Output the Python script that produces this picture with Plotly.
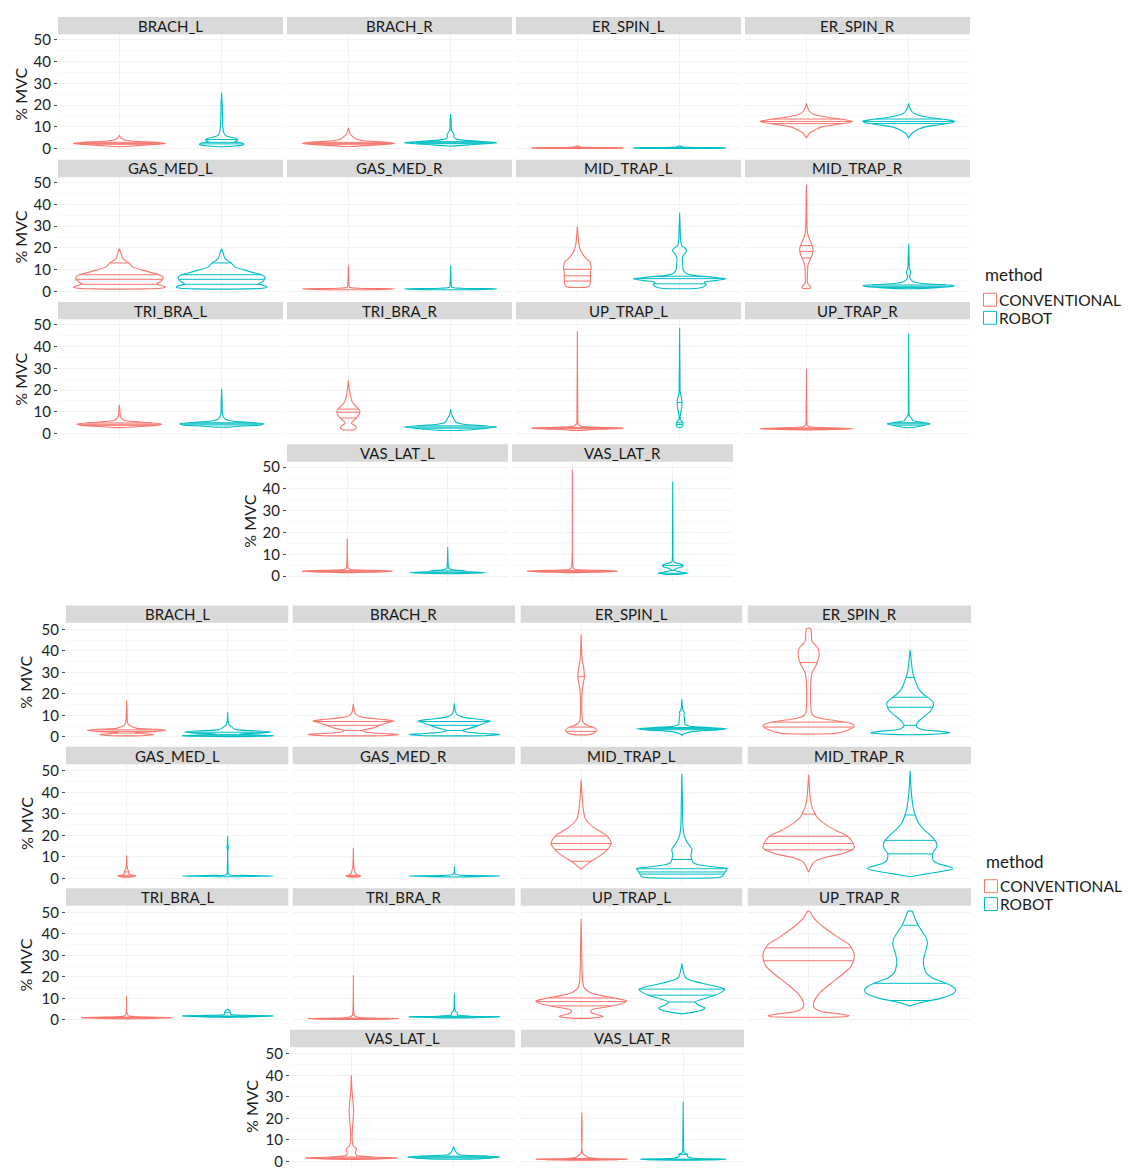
import numpy as np
import plotly.graph_objects as go

# ---------------------------------------------------------------------------
# Categories
# ---------------------------------------------------------------------------
MUSCLES = ["BRACH_L", "BRACH_R", "ER_SPIN_L", "ER_SPIN_R",
           "GAS_MED_L", "GAS_MED_R", "MID_TRAP_L", "MID_TRAP_R",
           "TRI_BRA_L", "TRI_BRA_R", "UP_TRAP_L", "UP_TRAP_R",
           "VAS_LAT_L", "VAS_LAT_R"]
METHODS = ["CONVENTIONAL", "ROBOT"]
Y_TICKS = [0, 10, 20, 30, 40, 50]
Y_MINOR = [5, 15, 25, 35, 45]
AXIS_TITLE = "% MVC"
LEGEND_TITLE = "method"

# ---------------------------------------------------------------------------
# Violin profiles: (%MVC levels, violin half-width at each level, quantile lines)
# Upper figure
# ---------------------------------------------------------------------------
U_BRACH_L_CON = ([0.9, 1.5, 2.0, 2.4, 2.9, 3.4, 4.0, 4.5, 5.0, 6.2],
                 [0.02, 0.2, 0.38, 0.45, 0.35, 0.15, 0.05, 0.03, 0.015, 0], [2.0, 2.4, 2.9])
U_BRACH_L_ROB = ([0.9, 1.3, 1.9, 2.6, 3.2, 3.8, 4.5, 5.2, 6.0, 7.5, 10, 15, 20, 25.7],
                 [0.02, 0.15, 0.217, 0.2, 0.13, 0.155, 0.15, 0.09, 0.04, 0.02, 0.012, 0.008, 0.006, 0], [2.2, 2.9, 4.2])
U_BRACH_R_CON = ([1.0, 1.6, 2.4, 3.0, 3.6, 4.5, 5.5, 6.5, 7.5, 9.5],
                 [0.02, 0.25, 0.45, 0.35, 0.15, 0.07, 0.045, 0.02, 0.012, 0], [2.0, 2.4, 2.9])
U_BRACH_R_ROB = ([1.2, 1.8, 2.75, 3.3, 3.9, 4.5, 5.5, 6.5, 7.5, 8.5, 12, 15.9],
                 [0.02, 0.2, 0.45, 0.3, 0.12, 0.05, 0.03, 0.035, 0.02, 0.008, 0.006, 0], [2.3, 2.75, 3.2])
U_ER_SPIN_L_CON = ([0.05, 0.2, 0.35, 0.5, 0.7, 1.3],
                   [0.02, 0.3, 0.45, 0.2, 0.03, 0], [0.3, 0.35, 0.4])
U_ER_SPIN_L_ROB = ([0.05, 0.2, 0.35, 0.5, 0.7, 1.3],
                   [0.02, 0.3, 0.45, 0.2, 0.03, 0], [0.3, 0.35, 0.4])
U_ER_SPIN_R_CON = ([5.0, 6.0, 7.0, 8.0, 9.0, 10.0, 11.0, 12.0, 12.5, 13.3, 14.3, 15.3, 16.3, 17.5, 19.0, 20.8],
                   [0, 0.015, 0.03, 0.06, 0.1, 0.15, 0.28, 0.42, 0.45, 0.38, 0.22, 0.1, 0.05, 0.025, 0.01, 0],
                   [11.5, 12.5, 13.6])
U_ER_SPIN_R_ROB = ([5.0, 6.0, 7.0, 8.0, 9.0, 10.0, 11.0, 12.0, 12.5, 13.3, 14.3, 15.3, 16.3, 17.5, 19.0, 20.8],
                   [0, 0.015, 0.03, 0.06, 0.1, 0.16, 0.3, 0.43, 0.45, 0.37, 0.21, 0.1, 0.05, 0.025, 0.01, 0],
                   [11.5, 12.5, 13.6])
U_GAS_MED_L_CON = ([1.2, 1.5, 2.1, 2.8, 3.5, 4.5, 5.6, 6.6, 7.7, 8.3, 9.8, 11.3, 13.1, 15.1, 18.1, 19.6],
                   [0.25, 0.4, 0.45, 0.41, 0.365, 0.4, 0.425, 0.427, 0.39, 0.342, 0.228, 0.13, 0.094, 0.033, 0.013, 0],
                   [3.3, 5.6, 7.7, 13.1])
U_GAS_MED_L_ROB = ([1.2, 1.5, 2.1, 2.8, 3.5, 4.5, 5.6, 6.6, 7.7, 8.3, 9.8, 11.3, 13.1, 15.1, 18.1, 19.6],
                   [0.25, 0.4, 0.445, 0.41, 0.36, 0.4, 0.42, 0.425, 0.39, 0.34, 0.228, 0.13, 0.094, 0.033, 0.013, 0],
                   [3.3, 5.6, 7.7, 13.1])
U_GAS_MED_R_CON = ([0.8, 1.2, 1.5, 2.0, 4.0, 12.0],
                   [0.1, 0.45, 0.1, 0.01, 0.005, 0], [])
U_GAS_MED_R_ROB = ([0.8, 1.2, 1.5, 2.0, 4.0, 12.0],
                   [0.1, 0.45, 0.1, 0.01, 0.005, 0], [])
U_MID_TRAP_L_CON = ([2.0, 2.5, 3.5, 5.0, 7.0, 9.0, 11.0, 12.5, 13.5, 15.0, 16.6, 18.0, 19.6, 22.0, 25.0, 29.8],
                    [0.09, 0.115, 0.125, 0.127, 0.128, 0.13, 0.135, 0.13, 0.125, 0.09, 0.06, 0.04, 0.026, 0.014, 0.008, 0],
                    [4.8, 7.2, 10.2])
U_MID_TRAP_L_ROB = ([1.5, 2.3, 3.3, 4.3, 5.0, 5.9, 6.6, 7.3, 8.3, 10, 12, 14, 15.8, 17.2, 18.8, 20.0, 21, 23, 28, 36.1],
                    [0.18, 0.24, 0.26, 0.24, 0.35, 0.45, 0.32, 0.15, 0.065, 0.035, 0.03, 0.026, 0.028, 0.045, 0.07, 0.05, 0.02, 0.01, 0.006, 0],
                    [3.5, 5.9, 7.0])
U_MID_TRAP_R_CON = ([1.5, 2.3, 3.0, 3.8, 6, 9, 12, 14, 16, 18, 19.6, 21.5, 23.5, 25.5, 28.5, 35, 42, 49],
                    [0.04, 0.04, 0.025, 0.012, 0.01, 0.012, 0.015, 0.03, 0.05, 0.062, 0.065, 0.055, 0.035, 0.018, 0.008, 0.004, 0.003, 0],
                    [15.4, 18.4, 21.1])
U_MID_TRAP_R_ROB = ([1.3, 1.7, 2.3, 2.7, 3.2, 3.8, 4.5, 5.5, 7, 8.5, 9.3, 10.5, 15, 21.8],
                    [0.1, 0.25, 0.42, 0.45, 0.3, 0.12, 0.05, 0.02, 0.01, 0.02, 0.02, 0.008, 0.005, 0],
                    [1.8, 2.4, 3.0])
U_TRI_BRA_L_CON = ([2.8, 3.3, 3.9, 4.4, 5.0, 5.5, 6.0, 6.7, 8, 10, 13.3],
                   [0.05, 0.2, 0.38, 0.415, 0.3, 0.15, 0.06, 0.03, 0.01, 0.006, 0], [3.8, 4.3, 4.9])
U_TRI_BRA_L_ROB = ([3.0, 3.5, 4.0, 4.5, 5.1, 5.7, 6.5, 7.5, 9, 14, 20.6],
                   [0.05, 0.2, 0.38, 0.41, 0.3, 0.12, 0.04, 0.02, 0.008, 0.005, 0], [4.0, 4.5, 5.0])
U_TRI_BRA_R_CON = ([1.8, 2.2, 3.0, 3.8, 4.8, 5.8, 7.2, 8.5, 10.0, 11.3, 12.5, 14, 15.5, 17.5, 20, 24.4],
                   [0.055, 0.07, 0.078, 0.06, 0.03, 0.045, 0.08, 0.1, 0.114, 0.1, 0.075, 0.045, 0.03, 0.02, 0.01, 0],
                   [7.2, 9.8, 11.3])
U_TRI_BRA_R_ROB = ([1.5, 2.0, 3.0, 3.6, 4.2, 5, 6, 7, 8.5, 11.3],
                   [0.1, 0.25, 0.45, 0.33, 0.15, 0.06, 0.04, 0.03, 0.012, 0], [2.5, 3.0, 3.6])
U_UP_TRAP_L_CON = ([1.5, 2.0, 2.5, 3.0, 3.5, 4.5, 10, 47],
                   [0.05, 0.2, 0.45, 0.15, 0.03, 0.008, 0.004, 0], [2.2, 2.5, 2.8])
U_UP_TRAP_L_ROB = ([2.9, 3.5, 4.5, 5.5, 6.5, 8, 10, 12, 14.3, 16.5, 18.8, 25, 48.6],
                   [0.015, 0.03, 0.033, 0.025, 0.006, 0.006, 0.012, 0.02, 0.024, 0.018, 0.006, 0.004, 0],
                   [4.2, 5.0, 14.3])
U_UP_TRAP_R_CON = ([1.7, 2.0, 2.3, 2.7, 3.2, 4, 10, 29.8],
                   [0.05, 0.3, 0.45, 0.2, 0.03, 0.008, 0.003, 0], [2.0, 2.3, 2.6])
U_UP_TRAP_R_ROB = ([2.7, 3.5, 4.5, 5.3, 6.0, 6.8, 7.5, 8.5, 15, 46],
                   [0.01, 0.12, 0.21, 0.12, 0.04, 0.033, 0.02, 0.006, 0.003, 0], [3.9, 4.5, 5.0])
U_VAS_LAT_L_CON = ([1.6, 1.9, 2.2, 2.6, 3.0, 3.5, 6, 17.1],
                   [0.05, 0.3, 0.45, 0.25, 0.04, 0.01, 0.004, 0], [1.9, 2.2, 2.5])
U_VAS_LAT_L_ROB = ([1.1, 1.4, 1.6, 2.0, 2.4, 2.9, 3.5, 6, 13.4],
                   [0.05, 0.3, 0.38, 0.2, 0.16, 0.05, 0.01, 0.004, 0], [1.5, 1.8, 2.4])
U_VAS_LAT_R_CON = ([1.6, 1.9, 2.2, 2.6, 3.0, 3.5, 6, 48.8],
                   [0.05, 0.3, 0.45, 0.25, 0.04, 0.012, 0.004, 0], [1.9, 2.2, 2.5])
U_VAS_LAT_R_ROB = ([0.8, 1.0, 1.3, 1.8, 2.4, 3.0, 3.7, 4.3, 4.9, 5.5, 6.2, 7, 15, 43.4],
                   [0.05, 0.1, 0.146, 0.09, 0.03, 0.015, 0.05, 0.095, 0.103, 0.08, 0.02, 0.006, 0.003, 0],
                   [1.3, 2.6, 4.9])

# ---------------------------------------------------------------------------
# Lower figure
# ---------------------------------------------------------------------------
L_BRACH_L_CON = ([0.6, 0.8, 1.1, 1.5, 2.0, 2.6, 3.1, 3.6, 4.0, 4.6, 5.3, 6.5, 10, 16.9],
                 [0.15, 0.22, 0.27, 0.18, 0.08, 0.3, 0.39, 0.3, 0.1, 0.06, 0.03, 0.01, 0.005, 0], [1.8, 2.6, 3.3])
L_BRACH_L_ROB = ([0.3, 0.6, 0.9, 1.4, 1.9, 2.3, 2.8, 3.3, 4.0, 4.7, 5.5, 7, 11.5],
                 [0.3, 0.45, 0.3, 0.12, 0.35, 0.425, 0.3, 0.1, 0.055, 0.04, 0.015, 0.006, 0], [0.6, 1.2, 2.2])
L_BRACH_R_CON = ([0.6, 0.8, 1.1, 1.6, 2.3, 3.1, 4.0, 5.4, 6.5, 7.4, 8.2, 9.0, 9.8, 10.8, 12, 15.4],
                 [0.3, 0.38, 0.45, 0.3, 0.12, 0.09, 0.18, 0.26, 0.33, 0.4, 0.28, 0.12, 0.05, 0.02, 0.01, 0],
                 [3.0, 5.4, 7.2])
L_BRACH_R_ROB = ([0.6, 0.8, 1.1, 1.6, 2.3, 3.1, 4.0, 5.4, 6.5, 7.4, 8.2, 9.0, 9.8, 10.8, 12, 15.7],
                 [0.3, 0.38, 0.45, 0.3, 0.12, 0.08, 0.15, 0.24, 0.3, 0.36, 0.25, 0.11, 0.05, 0.02, 0.01, 0],
                 [3.0, 5.4, 7.2])
L_ER_SPIN_L_CON = ([1.1, 1.6, 2.4, 3.1, 4.0, 5.0, 6.0, 7.2, 10, 15, 20, 24, 28, 32, 36, 40, 47.7],
                   [0.08, 0.12, 0.145, 0.155, 0.14, 0.09, 0.04, 0.016, 0.008, 0.006, 0.008, 0.018, 0.033, 0.025, 0.01, 0.005, 0],
                   [2.6, 4.6, 28.0])
L_ER_SPIN_L_ROB = ([0.8, 1.5, 2.5, 3.3, 3.8, 4.3, 5.0, 6.0, 7.5, 9, 10.5, 11.5, 12.5, 14, 17.7],
                   [0.0, 0.02, 0.1, 0.35, 0.45, 0.3, 0.08, 0.03, 0.028, 0.025, 0.02, 0.025, 0.01, 0.005, 0],
                   [3.4, 3.9, 4.4])
L_ER_SPIN_R_CON = ([1.5, 1.8, 2.5, 3.5, 4.5, 5.4, 6.5, 7.5, 8.5, 9.5, 10.5, 12, 16, 22, 27, 30, 33, 36, 39, 41.5, 43.5, 45, 47, 49, 50.5],
                   [0.2, 0.28, 0.35, 0.4, 0.44, 0.45, 0.4, 0.28, 0.14, 0.06, 0.035, 0.025, 0.02, 0.02, 0.025, 0.035, 0.07, 0.095, 0.104, 0.09, 0.05, 0.03, 0.03, 0.025, 0.02],
                   [4.6, 6.9, 34.6])
L_ER_SPIN_R_ROB = ([1.2, 1.6, 2.0, 2.6, 3.5, 5.0, 6.5, 8, 10, 12, 14, 15.8, 17.5, 19.5, 22, 25, 27.7, 30, 34, 40.5],
                   [0.2, 0.33, 0.39, 0.3, 0.12, 0.06, 0.07, 0.1, 0.15, 0.2, 0.225, 0.23, 0.2, 0.14, 0.09, 0.06, 0.04, 0.025, 0.015, 0],
                   [5.4, 13.8, 18.5, 27.7])
L_GAS_MED_L_CON = ([0.6, 0.9, 1.2, 1.6, 2.2, 3.0, 3.8, 5, 10.6],
                   [0.03, 0.07, 0.09, 0.05, 0.02, 0.025, 0.015, 0.006, 0], [1.0, 1.2, 3.0])
L_GAS_MED_L_ROB = ([0.8, 1.0, 1.15, 1.4, 1.8, 5, 13.8, 14.4, 15, 19.7],
                   [0.1, 0.3, 0.45, 0.15, 0.01, 0.004, 0.004, 0.008, 0.004, 0], [])
L_GAS_MED_R_CON = ([0.6, 0.9, 1.2, 1.6, 2.5, 3.5, 5, 14.1],
                   [0.03, 0.06, 0.074, 0.04, 0.02, 0.015, 0.006, 0], [1.0, 1.2, 1.5])
L_GAS_MED_R_ROB = ([0.7, 1.0, 1.15, 1.4, 2.0, 5.6],
                   [0.1, 0.35, 0.45, 0.1, 0.01, 0], [])
L_MID_TRAP_L_CON = ([4.3, 5.5, 7.0, 8.0, 10, 12, 13.4, 16.2, 18, 19.7, 21.5, 23.5, 26, 28, 32.6, 38, 45.9],
                    [0.0, 0.03, 0.07, 0.1, 0.17, 0.23, 0.26, 0.30, 0.285, 0.26, 0.2, 0.13, 0.07, 0.04, 0.02, 0.01, 0],
                    [8.0, 13.4, 16.2, 19.7])
L_MID_TRAP_L_ROB = ([0.8, 1.5, 2.3, 3.0, 3.8, 4.5, 5.3, 6.2, 7.5, 8.8, 10.6, 12, 13.6, 15, 17, 19, 20.5, 25, 35, 48.5],
                    [0.4, 0.41, 0.42, 0.43, 0.44, 0.45, 0.33, 0.18, 0.11, 0.1, 0.09, 0.095, 0.1, 0.08, 0.05, 0.03, 0.02, 0.01, 0.006, 0],
                    [2.0, 3.0, 4.5, 8.8])
L_MID_TRAP_R_CON = ([3.0, 5.0, 7.5, 9.8, 11.5, 13.3, 14.4, 16.2, 19.6, 22, 25, 28, 29.9, 33, 38, 48.2],
                    [0.0, 0.02, 0.05, 0.165, 0.33, 0.43, 0.45, 0.44, 0.385, 0.28, 0.17, 0.09, 0.066, 0.035, 0.015, 0],
                    [13.3, 16.2, 19.6, 29.9])
L_MID_TRAP_R_ROB = ([0.8, 2.0, 3.3, 4.5, 5.5, 6.8, 8.3, 10, 11.4, 13, 14.8, 16.2, 17.7, 20, 23, 26, 29.5, 33, 40, 50],
                    [0.0, 0.15, 0.32, 0.42, 0.38, 0.28, 0.23, 0.22, 0.22, 0.24, 0.264, 0.26, 0.247, 0.2, 0.13, 0.08, 0.05, 0.03, 0.012, 0],
                    [11.4, 17.7, 29.5])
L_TRI_BRA_L_CON = ([0.5, 0.8, 1.0, 1.3, 1.8, 3, 11],
                   [0.1, 0.3, 0.45, 0.2, 0.02, 0.005, 0], [0.8, 1.0, 1.2])
L_TRI_BRA_L_ROB = ([1.2, 1.5, 1.8, 2.1, 2.5, 3.5, 4.2, 5.0],
                   [0.1, 0.3, 0.45, 0.2, 0.03, 0.03, 0.02, 0], [1.6, 1.8, 3.5])
L_TRI_BRA_R_CON = ([0.2, 0.4, 0.6, 0.9, 1.3, 2, 4, 20.7],
                   [0.1, 0.35, 0.45, 0.1, 0.04, 0.01, 0.004, 0], [0.4, 0.6, 0.8])
L_TRI_BRA_R_ROB = ([0.9, 1.2, 1.4, 1.7, 2.3, 3.2, 4, 12.4],
                   [0.1, 0.3, 0.45, 0.15, 0.03, 0.03, 0.01, 0], [1.2, 1.4, 1.7])
L_UP_TRAP_L_CON = ([0.8, 1.2, 1.6, 2.5, 3.5, 4.6, 6.0, 7.5, 8.8, 10, 11.5, 13, 15, 18, 25, 35, 47],
                   [0.1, 0.18, 0.22, 0.15, 0.1, 0.1, 0.25, 0.4, 0.45, 0.35, 0.18, 0.08, 0.03, 0.015, 0.008, 0.005, 0],
                   [6.5, 8.5, 10.2])
L_UP_TRAP_L_ROB = ([2.8, 3.5, 4.5, 5.5, 6.8, 8.3, 9.8, 11.5, 13, 14.3, 15.5, 17, 18.5, 20, 23, 26.3],
                   [0.0, 0.1, 0.2, 0.23, 0.17, 0.13, 0.22, 0.33, 0.4, 0.425, 0.35, 0.2, 0.08, 0.03, 0.012, 0],
                   [8.3, 11.5, 14.3])
L_UP_TRAP_R_CON = ([1.3, 1.6, 2.0, 2.8, 4, 6, 8, 10, 13, 17, 21, 25, 29, 32, 35, 38, 42, 45, 48, 50.5],
                   [0.3, 0.38, 0.4, 0.3, 0.12, 0.05, 0.05, 0.07, 0.12, 0.22, 0.33, 0.42, 0.45, 0.44, 0.4, 0.3, 0.18, 0.1, 0.04, 0.01],
                   [27.5, 33.5])
L_UP_TRAP_R_ROB = ([6.5, 8, 10, 12, 13.8, 15.5, 17.5, 19.5, 21.7, 24, 27, 30, 33, 35.5, 38, 41, 44, 47, 50.5],
                   [0.0, 0.1, 0.3, 0.42, 0.45, 0.42, 0.33, 0.22, 0.16, 0.14, 0.13, 0.14, 0.16, 0.17, 0.16, 0.12, 0.08, 0.05, 0.02],
                   [9.0, 17.0, 44.0])
L_VAS_LAT_L_CON = ([0.9, 1.2, 1.5, 2.0, 2.8, 4, 5.9, 7, 10, 15, 20, 24, 28, 33, 40],
                   [0.05, 0.3, 0.45, 0.2, 0.05, 0.04, 0.05, 0.02, 0.008, 0.01, 0.018, 0.022, 0.015, 0.006, 0],
                   [1.2, 1.5, 2.0])
L_VAS_LAT_L_ROB = ([1.0, 1.5, 2.0, 2.5, 3.2, 4.5, 6.8],
                   [0.1, 0.35, 0.45, 0.3, 0.05, 0.02, 0], [1.6, 2.0, 2.4])
L_VAS_LAT_R_CON = ([0.5, 0.8, 1.0, 1.3, 2.0, 2.6, 3.5, 22.7],
                   [0.1, 0.35, 0.45, 0.15, 0.05, 0.04, 0.01, 0], [0.8, 1.0, 1.3])
L_VAS_LAT_R_ROB = ([0.5, 0.8, 1.0, 1.4, 2.3, 3.2, 4, 10, 27.7],
                   [0.1, 0.35, 0.42, 0.1, 0.04, 0.045, 0.01, 0.004, 0], [0.8, 1.0, 3.2])

# Tables, in MUSCLES order
UPPER_CON = [U_BRACH_L_CON, U_BRACH_R_CON, U_ER_SPIN_L_CON, U_ER_SPIN_R_CON, U_GAS_MED_L_CON,
             U_GAS_MED_R_CON, U_MID_TRAP_L_CON, U_MID_TRAP_R_CON, U_TRI_BRA_L_CON, U_TRI_BRA_R_CON,
             U_UP_TRAP_L_CON, U_UP_TRAP_R_CON, U_VAS_LAT_L_CON, U_VAS_LAT_R_CON]
UPPER_ROB = [U_BRACH_L_ROB, U_BRACH_R_ROB, U_ER_SPIN_L_ROB, U_ER_SPIN_R_ROB, U_GAS_MED_L_ROB,
             U_GAS_MED_R_ROB, U_MID_TRAP_L_ROB, U_MID_TRAP_R_ROB, U_TRI_BRA_L_ROB, U_TRI_BRA_R_ROB,
             U_UP_TRAP_L_ROB, U_UP_TRAP_R_ROB, U_VAS_LAT_L_ROB, U_VAS_LAT_R_ROB]
LOWER_CON = [L_BRACH_L_CON, L_BRACH_R_CON, L_ER_SPIN_L_CON, L_ER_SPIN_R_CON, L_GAS_MED_L_CON,
             L_GAS_MED_R_CON, L_MID_TRAP_L_CON, L_MID_TRAP_R_CON, L_TRI_BRA_L_CON, L_TRI_BRA_R_CON,
             L_UP_TRAP_L_CON, L_UP_TRAP_R_CON, L_VAS_LAT_L_CON, L_VAS_LAT_R_CON]
LOWER_ROB = [L_BRACH_L_ROB, L_BRACH_R_ROB, L_ER_SPIN_L_ROB, L_ER_SPIN_R_ROB, L_GAS_MED_L_ROB,
             L_GAS_MED_R_ROB, L_MID_TRAP_L_ROB, L_MID_TRAP_R_ROB, L_TRI_BRA_L_ROB, L_TRI_BRA_R_ROB,
             L_UP_TRAP_L_ROB, L_UP_TRAP_R_ROB, L_VAS_LAT_L_ROB, L_VAS_LAT_R_ROB]

# ---------------------------------------------------------------------------
# Page geometry (pixels) and styling
# ---------------------------------------------------------------------------
W, H = 1131, 1171
FONT = "Lato"
COLORS = {"CONVENTIONAL": "#F8766D", "ROBOT": "#00BFC4"}
STRIP_FILL = "#D9D9D9"
GRID_MAJOR = "#F2F2F2"
GRID_MINOR = "#F8F8F8"
STRIP_H = 17.5
PANEL_H = 120.5

GRIDS = [
    dict(con=UPPER_CON, rob=UPPER_ROB,
         strip_tops=[13, 156.7, 299.7, 443],
         cols=[(58, 283), (287, 512), (516, 741), (745, 970)],
         last_cols=[(287, 508), (512, 733)],
         yrange=[-2.5, 52.5],
         title_x=[20.5, 20.5, 20.5, 250],
         legend=dict(x=983, title_y=272.5, rows=[297.5, 315.7])),
    dict(con=LOWER_CON, rob=LOWER_ROB,
         strip_tops=[605, 747.3, 889.6, 1031.9],
         cols=[(66, 288.3), (292.7, 515), (520.7, 742.3), (747.7, 971)],
         last_cols=[(290, 515), (521, 744)],
         yrange=[-2.6, 53.1],
         title_x=[26, 26, 26, 251],
         legend=dict(x=984, title_y=863, rows=[887.5, 905.5])),
]

fig = go.Figure()
shapes, annotations = [], []
axis_no = 0


def px_x(v):
    return v / W


def px_y(v):
    return 1 - v / H


for grid in GRIDS:
    for r in range(4):
        strip_top = grid["strip_tops"][r]
        panel_top = strip_top + STRIP_H
        idx = list(range(r * 4, r * 4 + 4)) if r < 3 else [12, 13]
        cols = grid["cols"] if r < 3 else grid["last_cols"]
        for c, mi in enumerate(idx):
            axis_no += 1
            x0, x1 = cols[c]
            sfx = "" if axis_no == 1 else str(axis_no)
            first = c == 0
            fig.update_layout({
                f"xaxis{sfx}": dict(
                    domain=[px_x(x0), px_x(x1)], anchor=f"y{sfx}", range=[0.4, 2.6],
                    tickvals=[1, 2], showticklabels=False, ticks="",
                    showgrid=True, gridcolor=GRID_MAJOR, gridwidth=1,
                    zeroline=False, showline=False, fixedrange=True),
                f"yaxis{sfx}": dict(
                    domain=[px_y(panel_top + PANEL_H), px_y(panel_top)], anchor=f"x{sfx}",
                    range=grid["yrange"], tickvals=Y_TICKS, showticklabels=first,
                    ticks="outside" if first else "", ticklen=3, tickwidth=1, tickcolor="#4D4D4D",
                    tickfont=dict(family=FONT, size=15, color="#222222"),
                    showgrid=True, gridcolor=GRID_MAJOR, gridwidth=1,
                    minor=dict(tickvals=Y_MINOR, showgrid=True, gridcolor=GRID_MINOR, gridwidth=1, ticks=""),
                    zeroline=False, showline=False, fixedrange=True),
            })
            # facet strip
            shapes.append(dict(type="rect", xref="paper", yref="paper",
                               x0=px_x(x0), x1=px_x(x1), y0=px_y(strip_top + STRIP_H), y1=px_y(strip_top),
                               fillcolor=STRIP_FILL, line=dict(width=0), layer="below"))
            annotations.append(dict(xref="paper", yref="paper", x=px_x((x0 + x1) / 2),
                                    y=px_y(strip_top + STRIP_H / 2), text=MUSCLES[mi], showarrow=False,
                                    xanchor="center", yanchor="middle",
                                    font=dict(family=FONT, size=15, color="#1A1A1A")))
            # violins
            for pos, method in enumerate(METHODS, start=1):
                ys, ws, qs = (grid["con"] if method == "CONVENTIONAL" else grid["rob"])[mi]
                ys = np.asarray(ys, float)
                ws = np.asarray(ws, float)
                xs = np.concatenate([pos + ws, (pos - ws)[::-1], [pos + ws[0]]])
                yy = np.concatenate([ys, ys[::-1], [ys[0]]])
                fig.add_trace(go.Scatter(
                    x=xs, y=yy, mode="lines", xaxis=f"x{sfx}", yaxis=f"y{sfx}",
                    line=dict(color=COLORS[method], width=1.1, shape="spline", smoothing=0.7),
                    hoverinfo="skip", showlegend=False))
                if qs:
                    qx, qy = [], []
                    for q in qs:
                        hw = float(np.interp(q, ys, ws))
                        qx += [pos - hw, pos + hw, None]
                        qy += [q, q, None]
                    fig.add_trace(go.Scatter(
                        x=qx, y=qy, mode="lines", xaxis=f"x{sfx}", yaxis=f"y{sfx}",
                        line=dict(color=COLORS[method], width=1.0),
                        hoverinfo="skip", showlegend=False))
        # y-axis title of the row
        annotations.append(dict(xref="paper", yref="paper", x=px_x(grid["title_x"][r]),
                                y=px_y(panel_top + PANEL_H / 2), text=AXIS_TITLE, textangle=-90,
                                showarrow=False, xanchor="center", yanchor="middle",
                                font=dict(family=FONT, size=16, color="#1A1A1A")))
    # legend
    lg = grid["legend"]
    annotations.append(dict(xref="paper", yref="paper", x=px_x(lg["x"]), y=px_y(lg["title_y"]),
                            text=LEGEND_TITLE, showarrow=False, xanchor="left", yanchor="middle",
                            font=dict(family=FONT, size=17, color="#1A1A1A")))
    for method, yc in zip(METHODS, lg["rows"]):
        shapes.append(dict(type="rect", xref="paper", yref="paper",
                           x0=px_x(lg["x"] + 0.5), x1=px_x(lg["x"] + 13.5),
                           y0=px_y(yc + 6.5), y1=px_y(yc - 6.5),
                           fillcolor="white", line=dict(color=COLORS[method], width=1)))
        annotations.append(dict(xref="paper", yref="paper", x=px_x(lg["x"] + 14), y=px_y(yc),
                                text=method, showarrow=False, xanchor="left", yanchor="middle",
                                font=dict(family=FONT, size=15.5, color="#1A1A1A")))

fig.update_layout(width=W, height=H, autosize=False,
                  margin=dict(l=0, r=0, t=0, b=0),
                  paper_bgcolor="white", plot_bgcolor="white",
                  shapes=shapes, annotations=annotations, showlegend=False)

fig.write_html("out.html")
